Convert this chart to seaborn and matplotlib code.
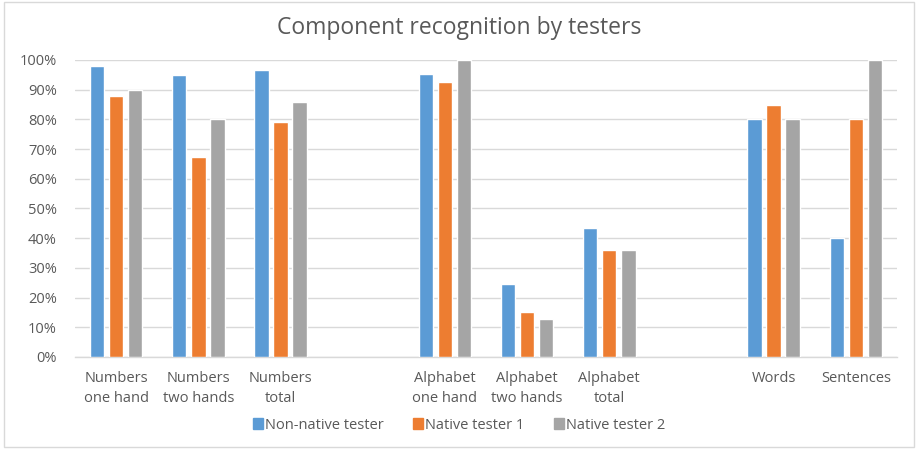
import matplotlib
matplotlib.use("Agg")
import matplotlib.pyplot as plt
import matplotlib.patches as mpatches
import seaborn as sns
import pandas as pd

# Category slots (empty strings are spacer slots between the groups)
categories = ["Numbers\none hand", "Numbers\ntwo hands", "Numbers\ntotal", "",
              "Alphabet\none hand", "Alphabet\ntwo hands", "Alphabet\ntotal", " ",
              "Words", "Sentences"]
data_categories = ["Numbers\none hand", "Numbers\ntwo hands", "Numbers\ntotal",
                   "Alphabet\none hand", "Alphabet\ntwo hands", "Alphabet\ntotal",
                   "Words", "Sentences"]
series = ["Non-native tester", "Native tester 1", "Native tester 2"]
non_native = [0.98, 0.95, 0.967, 0.953, 0.245, 0.434, 0.80, 0.40]
native_1 = [0.88, 0.675, 0.79, 0.927, 0.153, 0.36, 0.85, 0.80]
native_2 = [0.90, 0.80, 0.86, 1.00, 0.129, 0.36, 0.80, 1.00]
colors = ["#5b9bd5", "#ed7d31", "#a5a5a5"]
yticks = [0, 0.1, 0.2, 0.3, 0.4, 0.5, 0.6, 0.7, 0.8, 0.9, 1.0]
ytick_labels = ["0%", "10%", "20%", "30%", "40%", "50%", "60%", "70%", "80%", "90%", "100%"]

rows = []
for name, vals in zip(series, [non_native, native_1, native_2]):
    for cat, v in zip(data_categories, vals):
        rows.append({"category": cat, "tester": name, "value": v})
df = pd.DataFrame(rows)

sns.set_theme(style="white")
plt.rcParams["font.family"] = ["Open Sans", "DejaVu Sans"]
text_color = "#595959"

fig = plt.figure(figsize=(9.18, 4.49), dpi=100)
ax = fig.add_axes([0.0817, 0.2049, 0.8953, 0.6615])

sns.barplot(data=df, x="category", y="value", hue="tester", order=categories,
            hue_order=series, palette=colors, width=0.695, gap=0.24,
            saturation=1, legend=False, ax=ax, zorder=3)

ax.set_xlim(-0.5, len(categories) - 0.5)
ax.set_ylim(0, 1.0)
ax.set_yticks(yticks)
ax.set_yticklabels(ytick_labels, color=text_color, fontsize=10.5)
ax.set_xticks(range(len(categories)))
ax.set_xticklabels(categories, color=text_color, fontsize=10.5, linespacing=1.45)
ax.tick_params(axis="x", length=0, pad=10)
ax.tick_params(axis="y", length=0, pad=13)
ax.set_xlabel("")
ax.set_ylabel("")
ax.grid(axis="y", color="#d9d9d9", linewidth=1.0, zorder=0)
ax.set_axisbelow(True)
for side in ["top", "right", "left"]:
    ax.spines[side].set_visible(False)
ax.spines["bottom"].set_color("#d9d9d9")
ax.spines["bottom"].set_linewidth(1.0)

fig.text(0.5, 0.937, "Component recognition by testers", ha="center", va="center",
         fontsize=16.5, color=text_color)

handles = [mpatches.Patch(color=c, label=s) for c, s in zip(colors, series)]
fig.legend(handles=handles, loc="center", bbox_to_anchor=(0.5, 0.053), ncol=3,
           frameon=False, fontsize=10.5, handlelength=0.7, handleheight=0.7,
           handletextpad=0.15, columnspacing=2.0, labelcolor=text_color)

# Thin frame round the chart area
fig.patches.append(mpatches.Rectangle((0.004, 0.005), 0.992, 0.99,
                                      transform=fig.transFigure, fill=False,
                                      edgecolor="#d9d9d9", linewidth=1.0))

fig.savefig("out.png", dpi=100, facecolor="white")
